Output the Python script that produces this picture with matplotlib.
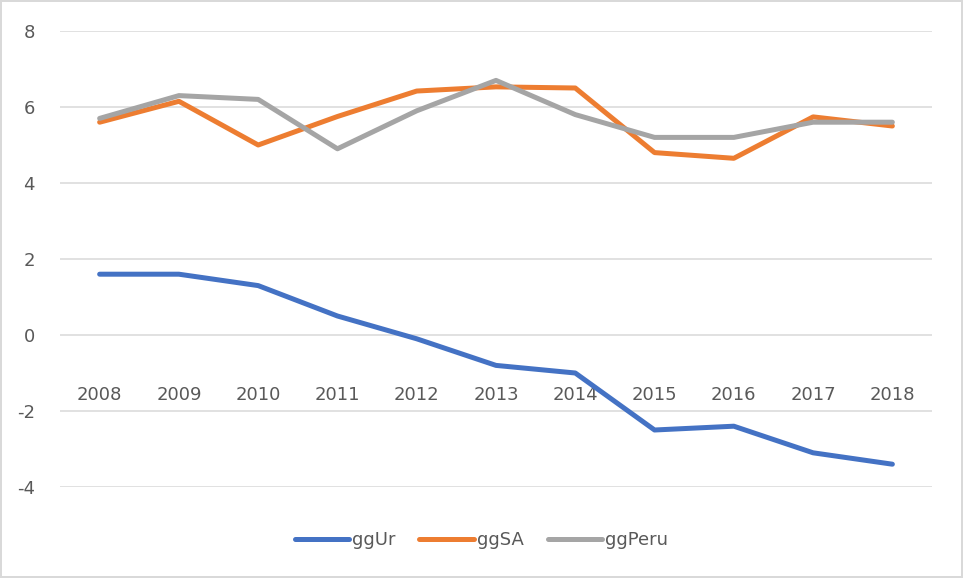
import numpy as np
import matplotlib
matplotlib.use('Agg')
import matplotlib.pyplot as plt

years = ['2008', '2009', '2010', '2011', '2012', '2013', '2014', '2015', '2016', '2017', '2018']
gg_ur = [1.6, 1.6, 1.3, 0.5, -0.1, -0.8, -1.0, -2.5, -2.4, -3.1, -3.4]
gg_sa = [5.6, 6.15, 5.0, 5.75, 6.42, 6.53, 6.5, 4.8, 4.65, 5.74, 5.5]
gg_peru = [5.7, 6.3, 6.2, 4.9, 5.9, 6.7, 5.8, 5.2, 5.2, 5.6, 5.6]
y_ticks = [-4, -2, 0, 2, 4, 6, 8]

txt_col = '#595959'
plt.rcParams['font.family'] = ['DejaVu Sans']
plt.rcParams['font.size'] = 13

fig = plt.figure(figsize=(9.63, 5.78), dpi=100)
fig.patch.set_edgecolor('#D9D9D9')
fig.patch.set_linewidth(1.5)
ax = fig.add_axes([60 / 963, 1 - 487 / 578, (932 - 60) / 963, (487 - 31) / 578])

x = np.arange(len(years))
series = [('ggUr', gg_ur, '#4472C4'), ('ggSA', gg_sa, '#ED7D31'), ('ggPeru', gg_peru, '#A5A5A5')]
for name, vals, col in series:
    ax.plot(x, vals, color=col, lw=3.6, solid_capstyle='round',
            solid_joinstyle='round', label=name, zorder=3)

ax.set_xlim(-0.5, len(years) - 0.5)
ax.set_ylim(-4, 8)
ax.set_yticks(y_ticks)
ax.set_yticklabels([str(v) for v in y_ticks])
ax.grid(axis='y', color='#D9D9D9', lw=1.1, zorder=0)

ax.set_xticks(x)
ax.set_xticklabels(years)
ax.spines['bottom'].set_position(('data', 0))
for s in ['top', 'right', 'left', 'bottom']:
    ax.spines[s].set_visible(False)
ax.tick_params(axis='x', length=0, pad=37, labelcolor=txt_col)
ax.tick_params(axis='y', length=0, pad=18, labelcolor=txt_col)

leg = ax.legend(loc='center', bbox_to_anchor=(0.5, (578 - 540) / 578),
                bbox_transform=fig.transFigure, ncol=3, frameon=False,
                handlelength=3.0, handletextpad=0.2, columnspacing=1.3)
for t in leg.get_texts():
    t.set_color(txt_col)

fig.savefig('out.png', dpi=100)
